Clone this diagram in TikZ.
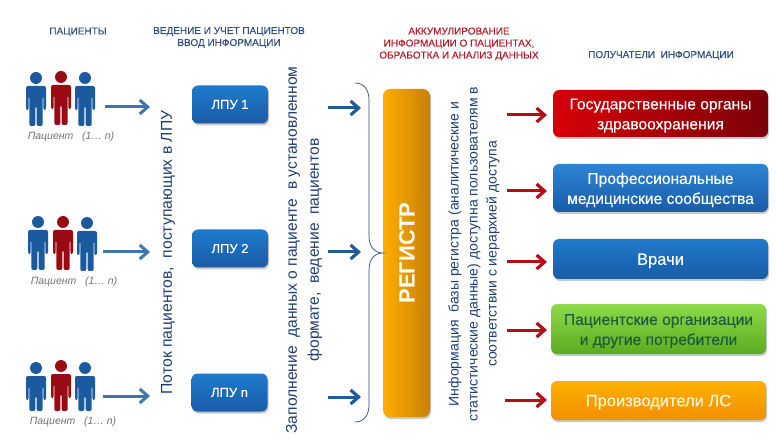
\documentclass[tikz,border=0pt]{standalone}
\usepackage{fontspec}
\setmainfont{Liberation Sans}
\newfontfamily\semi[FakeBold=0.25]{Liberation Sans}
\usetikzlibrary{arrows.meta,shadows}
\definecolor{navy}{HTML}{1F3F75}
\definecolor{headblue}{HTML}{33507F}
\definecolor{headred}{HTML}{B0202A}
\definecolor{pblue}{HTML}{1C5AA0}
\definecolor{pred}{HTML}{9A0A12}
\definecolor{arrblue}{HTML}{3F76AE}
\definecolor{arrdark}{HTML}{1F5A9C}
\definecolor{arrred}{HTML}{B40F18}
\definecolor{lputop}{HTML}{1F7ACB}
\definecolor{lpubot}{HTML}{195CA8}
\definecolor{regl}{HTML}{FFAE00}
\definecolor{regr}{HTML}{C88000}
\definecolor{bracec}{HTML}{2B4A70}
\definecolor{redl}{HTML}{D80008}
\definecolor{redr}{HTML}{7A0208}
\definecolor{bluetop}{HTML}{2E84D4}
\definecolor{greentop}{HTML}{8EDA48}
\definecolor{greenbot}{HTML}{5CAA20}
\definecolor{greentxt}{HTML}{1C5E3C}
\definecolor{oratop}{HTML}{FFB000}
\definecolor{orabot}{HTML}{F09000}
\definecolor{oratxt}{HTML}{FFF4D8}
\newcommand{\tup}{\rule{0pt}{15pt}}
\tikzset{
  softshadow/.style={drop shadow={shadow xshift=1pt,shadow yshift=-2pt,opacity=.3,fill=black!70}},
  boxbase/.style={rounded corners=6pt,inner sep=0pt,align=center,softshadow,font=\semi\fontsize{15.6}{20}\selectfont,text=white},
  lpubox/.style={boxbase,minimum width=76pt,minimum height=38pt,top color=lputop,bottom color=lpubot,font=\semi\fontsize{13}{16}\selectfont},
  head/.style={align=center,font=\semi\fontsize{10}{12}\selectfont},
  vtext/.style={rotate=90,align=center,text=navy},
  ptext/.style={font=\fontsize{10.5}{12}\selectfont\itshape,text=black!55},
  arrleft/.style={draw=arrblue,line width=3pt,-{Straight Barb[length=8pt,width=14pt,line width=3pt]}},
  arrmid/.style={draw=arrdark,line width=3pt,-{Straight Barb[length=8pt,width=14pt,line width=3.2pt]}},
  arrright/.style={draw=arrred,line width=3pt,-{Straight Barb[length=8pt,width=14pt,line width=3.2pt]}},
}
\newcommand{\person}[4]{% x, top y, colour, leg bottom offset
  \begin{scope}[shift={(#1,#2)}]
    \fill[#3] (0,6) circle[radius=6];
    \fill[#3,rounded corners=2pt] (-10,38) -- (-10,14) -- (10,14) -- (10,38) -- (7.3,38) -- (7.3,24) -- (6.7,24) -- (6.7,38) -- (6.7,#4) -- (0.6,#4) -- (0.6,34) -- (-0.6,34) -- (-0.6,#4) -- (-6.7,#4) -- (-6.7,24) -- (-7.3,24) -- (-7.3,38) -- cycle;
  \end{scope}}
\newcommand{\trio}[8]{% x1,x2,x3,y1,y2,y3,b,b
  \person{#1}{#4}{pblue}{#7}\person{#2}{#5}{pred}{#8}\person{#3}{#6}{pblue}{#7}}
\begin{document}
\begin{tikzpicture}[x=1pt,y=-1pt]
\useasboundingbox (0,0) rectangle (776,446);
\fill[white] (0,0) rectangle (776,446);
% headers
\node[head,text=headblue] (h1) at (78,32) {ПАЦИЕНТЫ};
\node[head,text=headblue] (h2) at (229,37.5) {ВЕДЕНИЕ И УЧЕТ ПАЦИЕНТОВ\\ВВОД ИНФОРМАЦИИ};
\node[head,text=headred] (h3) at (459,44) {АККУМУЛИРОВАНИЕ\\ИНФОРМАЦИИ О ПАЦИЕНТАХ,\\ОБРАБОТКА И АНАЛИЗ ДАННЫХ};
\node[head,text=headblue] (h4) at (661,55.5) {ПОЛУЧАТЕЛИ\ \ ИНФОРМАЦИИ};
% people
\trio{36}{61}{85}{72}{71}{72}{54}{54}
\trio{38}{63}{87}{216}{216}{217}{54}{54}
\trio{36}{61}{85}{362}{360}{362}{49}{51}
\node[ptext] (p1) at (71,137) {Пациент\ \ \ (1… n)};
\node[ptext] (p2) at (74,282) {Пациент\ \ \ (1… n)};
\node[ptext] (p3) at (73,422) {Пациент\ \ \ (1… n)};
% LPU
\node[lpubox] (l1) at (230,104.5) {ЛПУ 1};
\node[lpubox] (l2) at (230,248.5) {ЛПУ 2};
\node[lpubox] (l3) at (229.5,392.5) {ЛПУ n};
% vertical text
\node[vtext,font=\fontsize{15.7}{19}\selectfont] (v1) at (168,252.5) {Поток пациентов,\ \ поступающих в ЛПУ};
\node[vtext,font=\fontsize{15.6}{22}\selectfont] (v2) at (304,250) {Заполнение\ \ данных о пациенте\ \ в установленном\\формате,\ \ ведение\ \ пациентов};
\node[vtext,font=\fontsize{14}{19}\selectfont] (v3) at (474,254) {Информация\ \ базы регистра (аналитические и\\статистические данные) доступна пользователям в\\соответствии с иерархией доступа};
% register
\node[rounded corners=7pt,minimum width=47pt,minimum height=328pt,inner sep=0pt,left color=regl,right color=regr,softshadow] (reg) at (406.5,253) {};
\node[rotate=90,text=white,font=\fontsize{22}{24}\selectfont\bfseries] (regt) at (407,253) {РЕГИСТР};
% brace
\coordinate (bt) at (355,83);
\coordinate (bb) at (355,422);
\coordinate (btip) at (383,253);
\draw[draw=bracec,line width=0.7pt] (bt) .. controls (364,83) and (369,90) .. (369,100) -- (369,236) .. controls (369,246) and (374,253) .. (btip) .. controls (374,253) and (369,260) .. (369,270) -- (369,405) .. controls (369,415) and (364,422) .. (bb);
% receivers
\node[boxbase,minimum width=215pt,minimum height=47pt,left color=redl,right color=redr] (r1) at (660.5,113.5) {\tup Государственные органы\\здравоохранения};
\node[boxbase,minimum width=215pt,minimum height=48pt,top color=bluetop,bottom color=lpubot] (r2) at (660.5,188) {\tup Профессиональные\\медицинские сообщества};
\node[boxbase,minimum width=215pt,minimum height=40pt,top color=lputop,bottom color=lpubot,font=\semi\fontsize{16.5}{20}\selectfont] (r3) at (660.5,259) {\tup Врачи};
\node[boxbase,minimum width=215pt,minimum height=50pt,top color=greentop,bottom color=greenbot,text=greentxt] (r4) at (658.5,329) {\tup Пациентские организации\\и другие потребители};
\node[boxbase,minimum width=215pt,minimum height=39pt,top color=oratop,bottom color=orabot,text=oratxt,font=\semi\fontsize{16.5}{20}\selectfont] (r5) at (658.5,400.5) {\tup Производители ЛС};
% arrow ends
\coordinate (a0) at (105,107); \coordinate (a1) at (150,107);
\coordinate (b0) at (103,252); \coordinate (b1) at (150,252);
\coordinate (c0) at (103,396); \coordinate (c1) at (150,396);
\coordinate (d0) at (328,108); \coordinate (d1) at (361,108);
\coordinate (e0) at (328,252); \coordinate (e1) at (361,252);
\coordinate (f0) at (328,397); \coordinate (f1) at (361,397);
\coordinate (g0) at (507,115); \coordinate (g1) at (547,115);
\coordinate (h0) at (507,191); \coordinate (h1x) at (547,191);
\coordinate (i0) at (507,262); \coordinate (i1) at (547,262);
\coordinate (j0) at (507,330); \coordinate (j1) at (547,330);
\coordinate (k0) at (505,400); \coordinate (k1) at (547,400);
\draw[arrleft] (a0) -- (a1);
\draw[arrleft] (b0) -- (b1);
\draw[arrleft] (c0) -- (c1);
\draw[arrmid] (d0) -- (d1);
\draw[arrmid] (e0) -- (e1);
\draw[arrmid] (f0) -- (f1);
\draw[arrright] (g0) -- (g1);
\draw[arrright] (h0) -- (h1x);
\draw[arrright] (i0) -- (i1);
\draw[arrright] (j0) -- (j1);
\draw[arrright] (k0) -- (k1);
\end{tikzpicture}
\end{document}
